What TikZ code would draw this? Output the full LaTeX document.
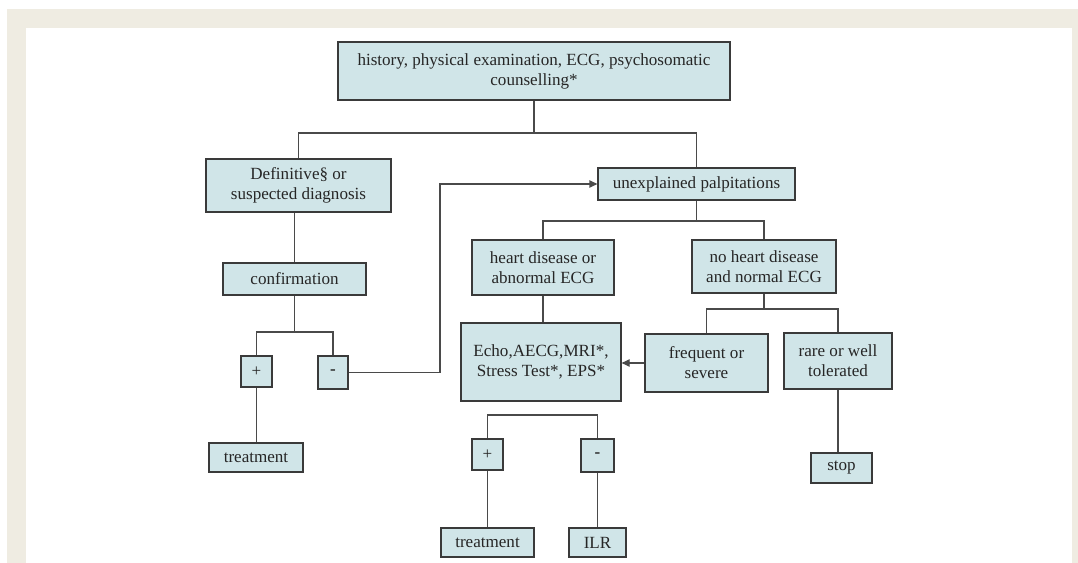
\documentclass[tikz,border=0pt]{standalone}
\usepackage{fontspec}
\setmainfont{Liberation Serif}
\usetikzlibrary{arrows.meta}
\definecolor{beige}{HTML}{EFECE2}
\definecolor{boxfill}{HTML}{D0E5E8}
\definecolor{boxline}{HTML}{3A3A3A}
\definecolor{conn}{HTML}{4A4A4A}
\tikzset{
  box/.style={draw=boxline, fill=boxfill, line width=0.9pt, inner sep=0pt, align=center,
    font=\fontsize{12.8}{15}\selectfont, text=black!85},
  link/.style={draw=conn, line width=0.9pt},
  arr/.style={link, -{Triangle[length=6pt,width=5.5pt]}}
}
\newcommand\bx[6]{\node[box, minimum width={(#4-#2)*0.75pt}, minimum height={(#5-#3)*0.75pt}]
  (#1) at ({(#2+#4)/2},{(#3+#5)/2}) {#6};}
\begin{document}
\begin{tikzpicture}[x=0.75pt,y=-0.75pt]
\useasboundingbox (0,0) rectangle (1078,563);
\fill[white] (0,0) rectangle (1078,563);
\fill[beige] (7,9) rectangle (1078,563);
\fill[white] (26,28) rectangle (1072,563);

\bx{top}{338}{42}{730}{100}{history, physical examination, ECG, psychosomatic\\counselling*}
\bx{def}{206}{159}{391}{212}{Definitive§ or\\suspected diagnosis}
\bx{unexp}{598}{168}{795}{200}{unexplained palpitations}
\bx{conf}{223}{263}{366}{295}{confirmation}
\bx{p1}{241}{356}{272}{387}{+}
\bx{m1}{318}{356}{348}{389}{\textbf{-}}
\bx{tr1}{209}{443}{303}{472}{treatment}
\bx{heart}{472}{240}{614}{295}{heart disease or\\abnormal ECG}
\bx{noh}{692}{240}{836}{293}{no heart disease\\and normal ECG}
\bx{echo}{461}{323}{621}{401}{Echo,AECG,MRI*,\\Stress Test*, EPS*}
\bx{freq}{645}{334}{768}{392}{frequent or\\severe}
\bx{rare}{784}{333}{892}{389}{rare or well\\tolerated}
\bx{stop}{811}{453}{872}{483}{stop}
\bx{p2}{472}{439}{503}{470}{+}
\bx{m2}{581}{439}{614}{472}{\textbf{-}}
\bx{tr2}{441}{528}{534}{557}{treatment}
\bx{ilr}{569}{528}{626}{557}{ILR}

\coordinate (j1) at (536,133);
\coordinate (j2) at (697,221);
\coordinate (j3) at (295,332);
\coordinate (j4) at (765,309);
\coordinate (k1) at (440,0);
\coordinate (j5) at (0,415);

\draw[link] (top.south) -- (top.south |- j1);
\draw[link] (def.north) |- (top.south |- j1) -| (unexp.north);
\draw[link] (conf.north |- def.south) -- (conf.north);
\draw[link] (conf.south) -- (conf.south |- j3);
\draw[link] (p1.north) |- (conf.south |- j3) -| (m1.north);
\draw[link] (p1.south) -- (p1.south |- tr1.north);
\draw[arr] (m1.east) -| (k1 |- unexp.west) -- (unexp.west);
\draw[link] (unexp.south) -- (unexp.south |- j2);
\draw[link] (heart.north) |- (unexp.south |- j2) -| (noh.north);
\draw[link] (heart.south) -- (heart.south |- echo.north);
\draw[link] (noh.south) -- (noh.south |- j4);
\draw[link] (freq.north) |- (noh.south |- j4) -| (rare.north);
\draw[arr] (freq.west) -- (freq.west -| echo.east);
\draw[link] (rare.south) -- (rare.south |- stop.north);
\draw[link] (p2.north) |- (m2.north |- j5) -- (m2.north);
\draw[link] (p2.south) -- (tr2.north);
\draw[link] (m2.south) -- (ilr.north);
\end{tikzpicture}
\end{document}
